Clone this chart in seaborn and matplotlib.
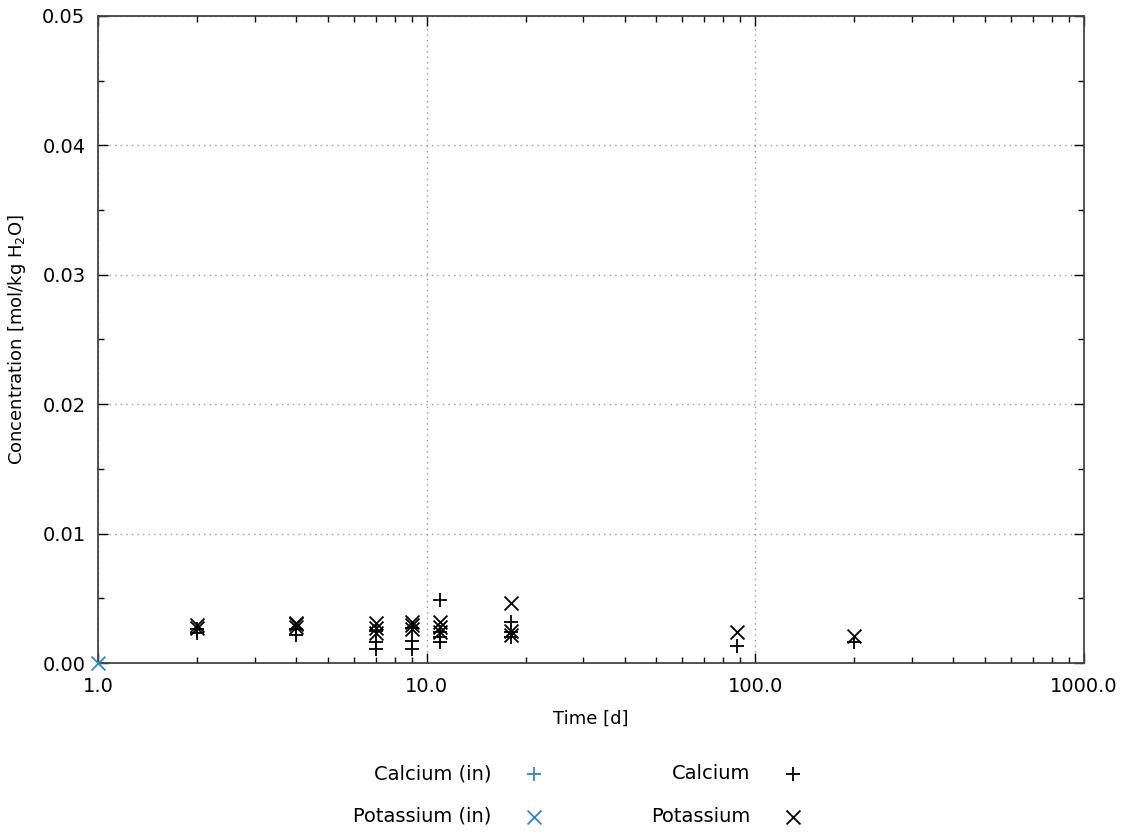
import matplotlib
matplotlib.use("Agg")
import matplotlib.pyplot as plt
import matplotlib.ticker as mticker
import seaborn as sns
import pandas as pd
import numpy as np

# ---- data ----
ca_in_time = [1.0]
ca_in_conc = [0.0]
k_in_time = [1.0]
k_in_conc = [0.0]

ca_time = [2, 2, 4, 4, 7, 7, 7, 9, 9, 9, 11, 11, 11, 11, 18, 18, 18, 88, 200]
ca_conc = [0.0023, 0.0026, 0.0026, 0.0022, 0.0025, 0.0016, 0.0011, 0.0027, 0.0017, 0.0011,
           0.0049, 0.0024, 0.0020, 0.0016, 0.0032, 0.0024, 0.0020, 0.0013, 0.0016]
k_time = [2, 2, 4, 4, 4, 7, 7, 7, 9, 9, 9, 11, 11, 11, 18, 18, 18, 88, 200]
k_conc = [0.0027, 0.0029, 0.0031, 0.0028, 0.0030, 0.0031, 0.0027, 0.0023, 0.0032, 0.0029, 0.0026,
          0.0032, 0.0028, 0.0024, 0.0046, 0.0025, 0.0022, 0.0024, 0.0021]

x_ticks = [1.0, 10.0, 100.0, 1000.0]
x_tick_labels = ["1.0", "10.0", "100.0", "1000.0"]
y_ticks = [0.00, 0.01, 0.02, 0.03, 0.04, 0.05]
y_tick_labels = ["0.00", "0.01", "0.02", "0.03", "0.04", "0.05"]

BLUE = "#2a8ac8"
BLACK = "#000000"

# name, x, y, marker, colour, clip, zorder
series = [
    ("Calcium (in)", ca_in_time, ca_in_conc, "+", BLUE, True, 1),
    ("Potassium (in)", k_in_time, k_in_conc, "x", BLUE, False, 5),
    ("Calcium", ca_time, ca_conc, "+", BLACK, False, 5),
    ("Potassium", k_time, k_conc, "x", BLACK, False, 5),
]

sns.set_theme(style="white")
plt.rcParams['font.family'] = ['DejaVu Sans']
plt.rcParams['text.color'] = 'black'
plt.rcParams['axes.labelcolor'] = 'black'

fig = plt.figure(figsize=(11.26, 8.32), dpi=100)
ax = fig.add_axes([0.087, 0.2031, 0.8757, 0.7777])

for name, t, c, m, col, clip, z in series:
    df = pd.DataFrame({"Time": t, "Conc": c})
    sns.scatterplot(data=df, x="Time", y="Conc", marker=m, color=col, s=100,
                    linewidth=1.3, ax=ax, label=name, clip_on=clip, zorder=z)

ax.set_xscale("log")
ax.set_xlim(1.0, 1000.0)
ax.set_ylim(0.0, 0.05)
ax.set_xticks(x_ticks)
ax.set_xticklabels(x_tick_labels)
ax.xaxis.set_minor_locator(mticker.LogLocator(base=10, subs=np.arange(2, 10)))
ax.xaxis.set_minor_formatter(mticker.NullFormatter())
ax.set_yticks(y_ticks)
ax.set_yticklabels(y_tick_labels)
ax.yaxis.set_minor_locator(mticker.MultipleLocator(0.005))

ax.tick_params(which="both", direction="in", top=True, right=True, bottom=True, left=True,
               color="black", labelsize=14, labelcolor="black")
ax.tick_params(which="major", length=7, width=1)
ax.tick_params(which="minor", length=4, width=1)
ax.tick_params(axis="x", pad=10)
ax.tick_params(axis="y", pad=9)

for sp in ax.spines.values():
    sp.set_color("#444444")
    sp.set_linewidth(1.3)
    sp.set_zorder(3)

ax.grid(True, which="major", linestyle=(0, (1, 3)), color="#999999", linewidth=1)
ax.set_axisbelow(True)

ax.set_xlabel("Time [d]", fontsize=13, labelpad=10, color="black")
ax.set_ylabel("Concentration [mol/kg H$_2$O]", fontsize=13, labelpad=10, color="black")

handles, labels = ax.get_legend_handles_labels()
if ax.legend_:
    ax.legend_.remove()
leg = fig.legend(handles, labels, loc="center", bbox_to_anchor=(0.5175, 0.0445),
                 ncol=2, frameon=False, markerfirst=False, fontsize=14,
                 columnspacing=5.0, handletextpad=1.2, labelspacing=1.2)
for vp in leg._legend_handle_box.get_children():
    vp.align = "right"

fig.savefig("out.png", dpi=100)
